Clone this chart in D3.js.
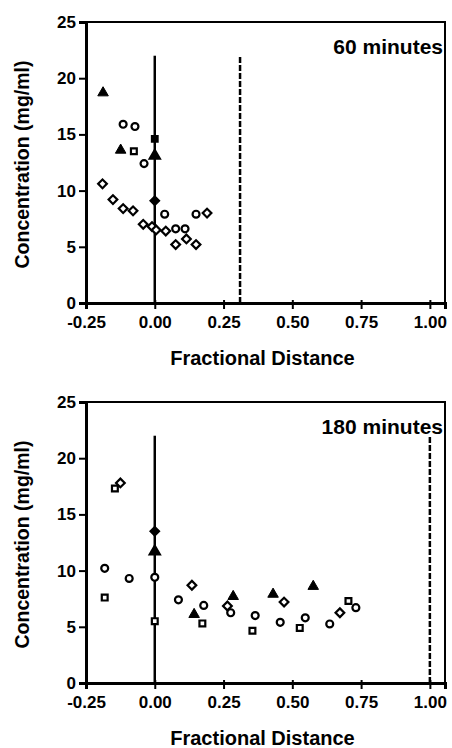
<!DOCTYPE html>
<html>
<head>
<meta charset="utf-8">
<script src="https://cdn.jsdelivr.net/npm/d3@7"></script>
<style>
  body { margin: 0; background: #fff; }
  svg text { font-family: "Liberation Sans", Arial, sans-serif; font-weight: bold; fill: #000; }
</style>
</head>
<body>
<div id="chart"></div>
<script>
// Tick values
var xTicks = [-0.25, 0, 0.25, 0.5, 0.75, 1.0];
var yTicks = [0, 5, 10, 15, 20, 25];

// 60 minutes panel
var circles60 = [[-0.115, 15.9], [-0.072, 15.7], [-0.039, 12.4], [0.036, 7.9], [0.076, 6.6], [0.11, 6.6], [0.15, 7.9]];
var squares60 = [[-0.076, 13.5]];
var triangles60 = [[-0.188, 18.7], [-0.124, 13.6]];
var diamonds60 = [[-0.19, 10.6], [-0.152, 9.2], [-0.115, 8.4], [-0.079, 8.2], [-0.042, 7.0], [-0.01, 6.8], [0.005, 6.5],
                  [0.04, 6.4], [0.076, 5.2], [0.115, 5.7], [0.15, 5.2], [0.19, 8.0]];
var filled60 = [["square", 0, 14.6], ["triangle", 0, 13.1], ["diamond", 0, 9.1]];

// 180 minutes panel
var circles180 = [[-0.182, 10.2], [-0.093, 9.3], [0, 9.4], [0.086, 7.4], [0.178, 6.9], [0.276, 6.25], [0.365, 6.0],
                  [0.456, 5.4], [0.547, 5.8], [0.636, 5.25], [0.731, 6.7]];
var squares180 = [[-0.182, 7.6], [-0.145, 17.3], [0, 5.5], [0.173, 5.3], [0.355, 4.65], [0.527, 4.9], [0.704, 7.3]];
var triangles180 = [[0.143, 6.1], [0.285, 7.7], [0.43, 7.9], [0.576, 8.6]];
var diamonds180 = [[-0.125, 17.8], [0.135, 8.7], [0.264, 6.85], [0.47, 7.2], [0.673, 6.25]];
var filled180 = [["diamond", 0, 13.5], ["triangle", 0, 11.7]];

var panels = [
  {title: "60 minutes", circles: circles60, squares: squares60, triangles: triangles60, diamonds: diamonds60,
   filled: filled60, solidAt: 0, dashedAt: 0.31, lineTop: 22},
  {title: "180 minutes", circles: circles180, squares: squares180, triangles: triangles180, diamonds: diamonds180,
   filled: filled180, solidAt: 0, dashedAt: 1.0, lineTop: 22}
];

var W = 452, H = 748;
var margin = {top: 22, left: 86},
    width = 359,
    height = 281,
    panelStep = 380;

var svg = d3.select("#chart").append("svg")
    .attr("width", W)
    .attr("height", H);

var x = d3.scaleLinear().domain([-0.25, 1.055]).range([0, width]);
var y = d3.scaleLinear().domain([0, 25]).range([height, 0]);

// plain hyphen for negatives, like the original
var fmtX = function(d) { return d3.format(".2f")(d).replace("\u2212", "-"); };

// marker shapes
var shapes = {
  circle: d3.symbol().type(d3.symbolCircle).size(38),
  square: d3.symbol().type(d3.symbolSquare).size(34),
  triangle: d3.symbol().type(d3.symbolTriangle).size(48),
  diamond: d3.symbol().type(d3.symbolSquare).size(38)
};
var rot = function(shape) { return shape === "diamond" ? " rotate(45)" : ""; };

panels.forEach(function(p, i) {
  var g = svg.append("g")
      .attr("transform", "translate(" + margin.left + "," + (margin.top + i * panelStep) + ")");

  // box (top and right)
  g.append("path")
      .attr("d", "M0,0H" + width + "V" + height)
      .attr("fill", "none")
      .attr("stroke", "#000")
      .attr("stroke-width", 2);

  // axes
  var xa = g.append("g")
      .attr("transform", "translate(0," + height + ")")
      .call(d3.axisBottom(x).tickValues(xTicks).tickFormat(fmtX).tickSize(6).tickPadding(7));
  var ya = g.append("g")
      .call(d3.axisLeft(y).tickValues(yTicks).tickFormat(d3.format("d")).tickSize(7).tickPadding(3));
  [xa, ya].forEach(function(a) {
    a.select(".domain").attr("stroke-width", 3);
    a.selectAll(".tick line").attr("stroke-width", 2);
    a.selectAll("text").attr("font-size", "17px");
  });
  xa.selectAll(".tick line").attr("y1", -3);

  // reference lines
  g.append("line")
      .attr("x1", x(p.solidAt)).attr("x2", x(p.solidAt))
      .attr("y1", y(0)).attr("y2", y(p.lineTop))
      .attr("stroke", "#000").attr("stroke-width", 2.5);
  g.append("line")
      .attr("x1", x(p.dashedAt)).attr("x2", x(p.dashedAt))
      .attr("y1", y(0)).attr("y2", y(p.lineTop))
      .attr("stroke", "#000").attr("stroke-width", 2.5)
      .attr("stroke-dasharray", "6,2");

  // markers
  function draw(data, shape, filled) {
    g.append("g").selectAll("path")
      .data(data)
      .join("path")
        .attr("transform", function(d) { return "translate(" + x(d[0]) + "," + y(d[1]) + ")" + rot(shape); })
        .attr("d", shapes[shape])
        .attr("fill", filled ? "#000" : "#fff")
        .attr("stroke", "#000")
        .attr("stroke-width", filled ? 1 : 2.2);
  }
  draw(p.circles, "circle", false);
  draw(p.squares, "square", false);
  draw(p.diamonds, "diamond", false);
  draw(p.triangles, "triangle", true);

  // filled markers on the interface line
  g.append("g").selectAll("path")
    .data(p.filled)
    .join("path")
      .attr("transform", function(d) { return "translate(" + x(d[1]) + "," + y(d[2]) + ")" + rot(d[0]); })
      .attr("d", function(d) { return shapes[d[0]](); })
      .attr("fill", "#000")
      .attr("stroke", "#000")
      .attr("stroke-width", 2);

  // panel title
  g.append("text")
      .attr("x", width - 2)
      .attr("y", 32)
      .attr("text-anchor", "end")
      .attr("font-size", "21px")
      .text(p.title);

  // axis titles
  g.append("text")
      .attr("x", width / 2 - 3)
      .attr("y", height + 62)
      .attr("text-anchor", "middle")
      .attr("font-size", "20px")
      .text("Fractional Distance");
  g.append("text")
      .attr("transform", "translate(-57," + (height / 2 + 2) + ") rotate(-90)")
      .attr("text-anchor", "middle")
      .attr("font-size", "19.5px")
      .text("Concentration (mg/ml)");
});
</script>
</body>
</html>
